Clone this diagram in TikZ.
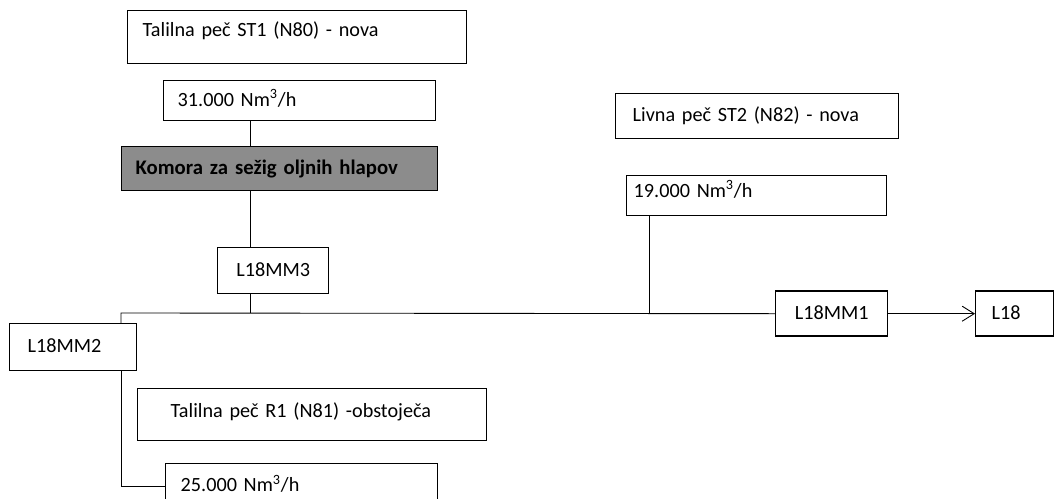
\documentclass[tikz,border=0pt]{standalone}
\usepackage{fontspec}
\setmainfont{Carlito}
\usetikzlibrary{arrows.meta}

\tikzset{
  box/.style={draw, line width=0.8pt, anchor=north west, inner xsep=0.3cm,
    align=left, text height=0.3cm, text depth=0.08cm,
    font=\fontsize{11.5}{13}\selectfont},
  pipe/.style={line width=0.5pt}
}

\begin{document}
\begin{tikzpicture}[x=0.02cm, y=-0.02cm]
        \clip (0,0) rectangle (1054,499);
        \fill[white] (0,0) rectangle (1054,499);

        % melting furnace ST1 branch
        \node[box, text width=6.18cm, minimum height=1.06cm, text depth=0.32cm] (st1) at (127,10) {Talilna peč ST1 (N80) - nova};
        \node[box, text width=4.88cm, inner xsep=0.28cm, minimum height=0.80cm] (flow1) at (163,80) {31.000 Nm\textsuperscript{3}/h};
        \node[box, fill=black!45, text width=5.76cm, inner xsep=0.28cm, minimum height=0.88cm,
              font=\fontsize{11.8}{13}\selectfont\bfseries] (komora) at (121,146) {Komora za sežig oljnih hlapov};
        \node[box, align=center, text width=1.62cm, minimum height=0.92cm] (mm3) at (217,247) {L18MM3};

        % casting furnace ST2 branch
        \node[box, text width=4.98cm, inner xsep=0.34cm, minimum height=0.90cm] (st2) at (615,93) {Livna peč ST2 (N82) - nova};
        \node[box, text width=4.92cm, inner xsep=0.14cm, minimum height=0.80cm, text depth=0.24cm] (flow2) at (626,175) {19.000 Nm\textsuperscript{3}/h};

        % existing furnace R1 branch
        \node[box, text width=1.82cm, inner xsep=0.36cm, minimum height=0.94cm] (mm2) at (9,323) {L18MM2};
        \node[box, text width=5.66cm, inner xsep=0.66cm, minimum height=1.04cm, text depth=0.18cm] (r1) at (137,388) {Talilna peč R1 (N81) -obstoječa};
        \node[box, text width=4.84cm, minimum height=0.90cm] (flow3) at (165,463) {25.000 Nm\textsuperscript{3}/h};

        % outlet
        \node[box, align=center, text width=1.64cm, minimum height=0.90cm] (mm1) at (775,290.5) {L18MM1};
        \node[box, text width=0.92cm, inner xsep=0.32cm, minimum height=0.90cm] (l18) at (975,290.5) {L18};

        % junctions on the collector
        \coordinate (split) at (121,313);
        \coordinate (spine) at (250,313);
        \coordinate (tap) at (649,313);

        % connectors
        \draw[pipe] (flow1.south -| spine) -- (komora.north -| spine);
        \draw[pipe] (komora.south -| spine) -- (mm3.north -| spine);
        \draw[pipe] (mm3.south -| spine) -- (spine);
        \draw[pipe] (flow2.south -| tap) -- (tap);
        \draw[pipe] (mm1.west) -- (split) -- (split |- mm2.north);
        \draw[pipe] (mm2.south -| split) |- (flow3.west);
        \draw[pipe, -{Straight Barb[length=2.4mm, width=3mm]}] (mm1.east) -- (l18.west);
    \end{tikzpicture}
\end{document}
